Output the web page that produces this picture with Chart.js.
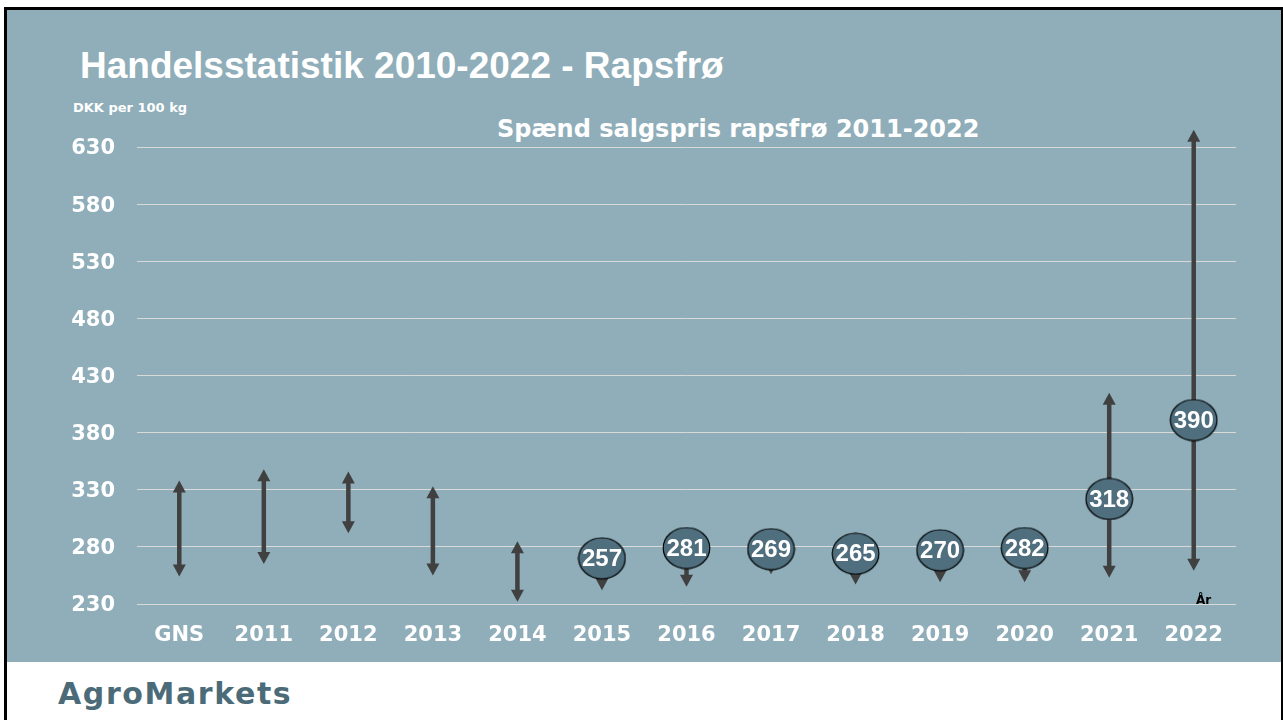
<!DOCTYPE html>
<html>
<head>
<meta charset="utf-8">
<script src="https://cdn.jsdelivr.net/npm/chart.js@4.4.1/dist/chart.umd.min.js"></script>
<style>
  body { margin: 0; width: 1283px; height: 720px; background: #fff; overflow: hidden; position: relative; }
  .blk { position: absolute; background: #000; }
  #panel { position: absolute; left: 7px; top: 10px; width: 1274px; height: 652px; background: #8FAEB9; }
  .txt { position: absolute; line-height: 1; white-space: nowrap; }
  #title { left: 80px; top: 45px; font: bold 37px "Liberation Sans", Arial, sans-serif; color: #fff; }
  #unit { left: 73px; top: 100px; font: bold 13px "DejaVu Sans", sans-serif; color: #fff; }
  #sub { left: 497px; top: 115px; font: bold 24px "DejaVu Sans", sans-serif; color: #fff; }
  #aar { left: 1196px; top: 593px; font: bold 12px "DejaVu Sans", sans-serif; color: #000; }
  #brand { left: 58px; top: 676px; font: bold 30px "DejaVu Sans", sans-serif; color: #4c6b78; letter-spacing: 1.6px; }
  #c { position: absolute; left: 0; top: 0; }
</style>
</head>
<body>
<div id="panel"></div>
<div class="blk" style="left:4px;top:7px;width:3px;height:713px"></div>
<div class="blk" style="left:4px;top:7px;width:1279px;height:3px"></div>
<div class="blk" style="left:1281px;top:7px;width:2px;height:713px"></div>
<div class="txt" id="title">Handelsstatistik 2010-2022 - Rapsfrø</div>
<div class="txt" id="unit">DKK per 100 kg</div>
<div class="txt" id="sub">Spænd salgspris rapsfrø 2011-2022</div>
<div class="txt" id="brand">AgroMarkets</div>
<canvas id="c" width="1283" height="720"></canvas>
<div class="txt" id="aar">År</div>
<script>
// categories and price spans (DKK per 100 kg)
const categories = ['GNS', '2011', '2012', '2013', '2014', '2015', '2016', '2017', '2018', '2019', '2020', '2021', '2022'];
const spanLow  = [254, 265, 292, 255, 232, 242, 245, 256, 247, 249, 249, 253, 259];
const spanHigh = [338, 348, 346, 333, 285, 270, 279, 278, 274, 277, 279, 415, 645];
// average price shown in the bubbles, and where each bubble sits on the axis
const avgPrice = [null, null, null, null, null, 257, 281, 269, 265, 270, 282, 318, 390];
const bubbleAt = [null, null, null, null, null, 270, 279, 278, 274, 277, 279, 322, 391];
const yTicks = [230, 280, 330, 380, 430, 480, 530, 580, 630];

const arrowColor = '#404040';
const bubbleColor = '#4F6F7E';

// ellipse used as point style for the bubbles
function makeBubble() {
  const cv = document.createElement('canvas');
  cv.width = 49; cv.height = 43;
  const g = cv.getContext('2d');
  g.beginPath();
  g.ellipse(24.5, 21.5, 23.3, 20.5, 0, 0, Math.PI * 2);
  g.fillStyle = bubbleColor;
  g.fill();
  g.lineWidth = 1.2;
  g.strokeStyle = '#000';
  g.stroke();
  return cv;
}

const arrowPlugin = {
  id: 'arrows',
  afterDatasetDraw(chart, args) {
    if (args.index !== 0) return;
    const ctx = chart.ctx;
    const head = 12, half = 6.5, w = 4.5;
    ctx.save();
    ctx.fillStyle = arrowColor;
    for (const bar of args.meta.data) {
      const p = bar.getProps(['x', 'y', 'base'], true);
      const top = Math.min(p.y, p.base), bot = Math.max(p.y, p.base);
      ctx.fillRect(p.x - w / 2, top + head - 1, w, bot - top - 2 * head + 2);
      ctx.beginPath();
      ctx.moveTo(p.x, top);
      ctx.lineTo(p.x + half, top + head);
      ctx.lineTo(p.x - half, top + head);
      ctx.closePath();
      ctx.fill();
      ctx.beginPath();
      ctx.moveTo(p.x, bot);
      ctx.lineTo(p.x + half, bot - head);
      ctx.lineTo(p.x - half, bot - head);
      ctx.closePath();
      ctx.fill();
    }
    ctx.restore();
  },
  afterDatasetsDraw(chart) {
    const ctx = chart.ctx;
    const meta = chart.getDatasetMeta(1);
    ctx.save();
    ctx.font = 'bold 24px "Liberation Sans", Arial, sans-serif';
    ctx.fillStyle = '#fff';
    ctx.textAlign = 'center';
    ctx.textBaseline = 'middle';
    meta.data.forEach((pt, i) => {
      if (avgPrice[i] == null) return;
      ctx.fillText(String(avgPrice[i]), pt.x, pt.y + 1);
    });
    ctx.restore();
  }
};

new Chart(document.getElementById('c'), {
  type: 'bar',
  data: {
    labels: categories,
    datasets: [
      {
        data: categories.map((c, i) => [spanLow[i], spanHigh[i]]),
        backgroundColor: 'rgba(0,0,0,0)',
        barThickness: 5,
        clip: false,
        order: 2
      },
      {
        type: 'line',
        data: bubbleAt,
        showLine: false,
        pointStyle: makeBubble(),
        clip: false,
        order: 1
      }
    ]
  },
  plugins: [arrowPlugin],
  options: {
    responsive: false,
    devicePixelRatio: 1,
    animation: false,
    layout: { padding: { left: 0, top: 147, right: 47, bottom: 0 } },
    plugins: { legend: { display: false }, tooltip: { enabled: false } },
    scales: {
      x: {
        grid: { display: false },
        border: { display: false },
        ticks: {
          color: '#fff',
          padding: 11,
          font: { family: 'DejaVu Sans', size: 21, weight: 'bold' }
        },
        afterFit(scale) { scale.height = 116; }
      },
      y: {
        min: 230,
        max: 630,
        afterBuildTicks(scale) { scale.ticks = yTicks.map(v => ({ value: v })); },
        grid: { color: '#d9d9d9', lineWidth: 1, drawTicks: false },
        border: { display: false },
        ticks: {
          color: '#fff',
          padding: 22,
          labelOffset: 2,
          font: { family: 'DejaVu Sans', size: 21, weight: 'bold' }
        },
        afterFit(scale) { scale.width = 137; }
      }
    }
  }
});
</script>
</body>
</html>
